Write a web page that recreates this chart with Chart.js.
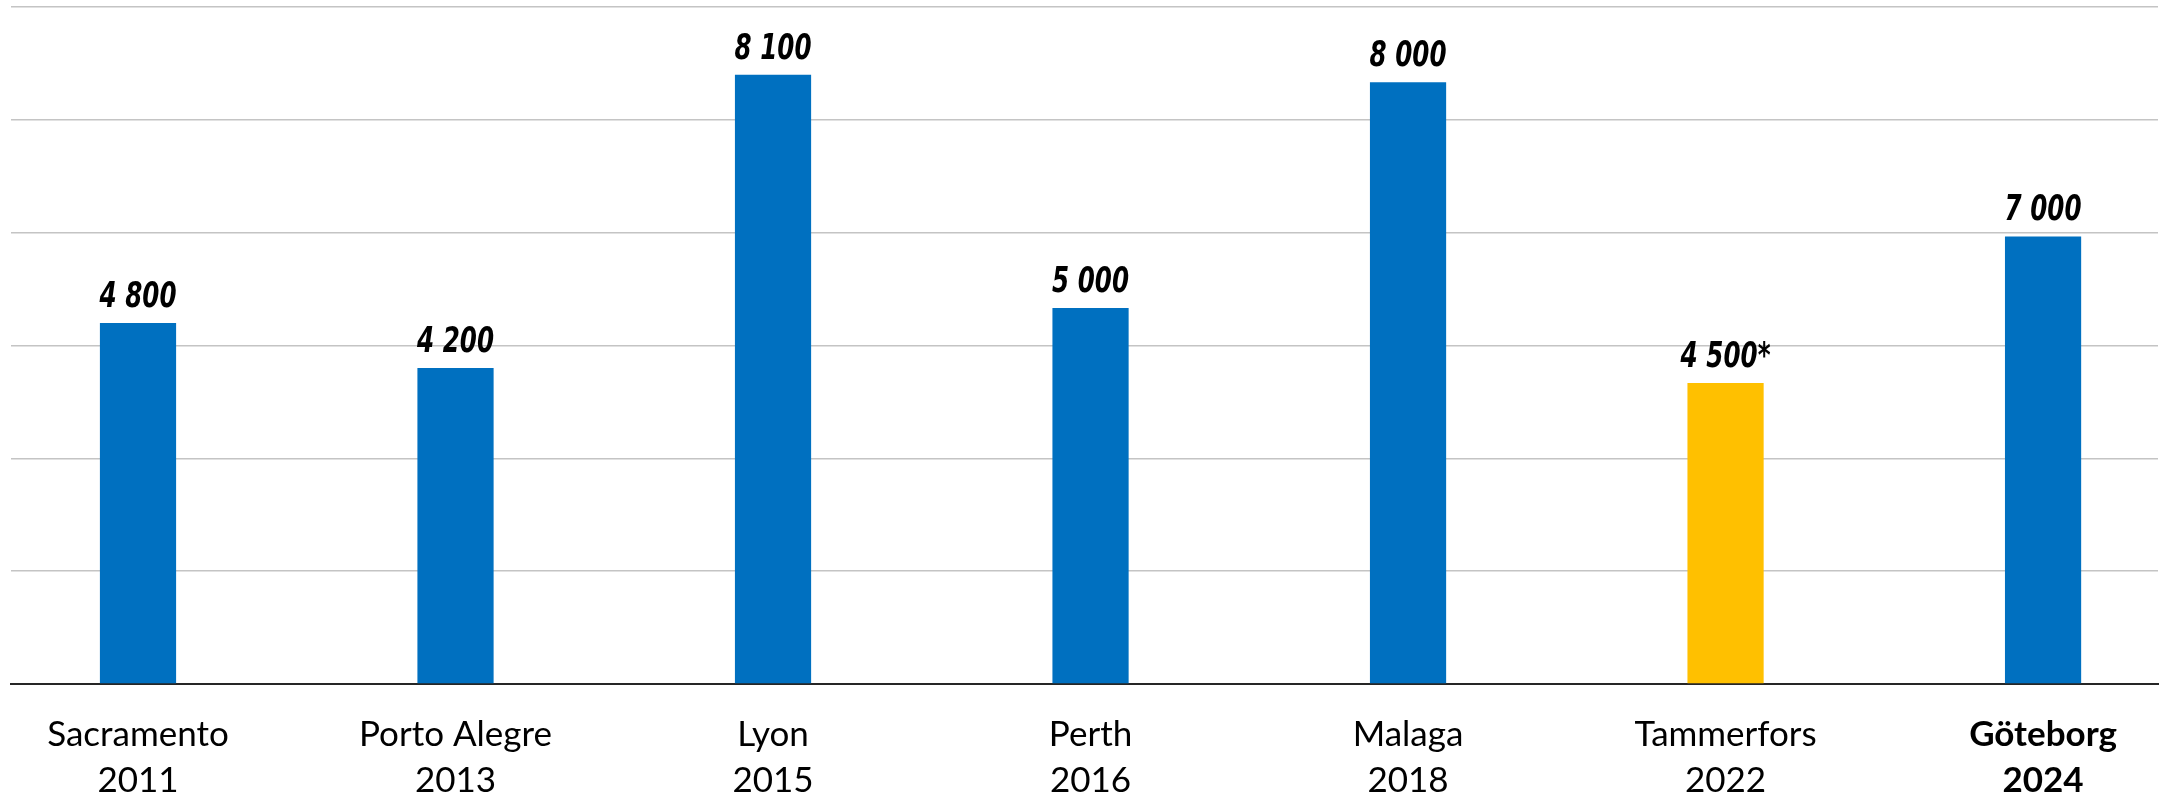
<!DOCTYPE html>
<html>
<head>
<meta charset="utf-8">
<script src="https://cdn.jsdelivr.net/npm/chart.js@4/dist/chart.umd.min.js"></script>
<style>
  html, body { margin: 0; padding: 0; background: #fff; }
  #wrap { position: relative; width: 2160px; height: 808px; }
</style>
</head>
<body>
<div id="wrap"><canvas id="chart"></canvas></div>
<script>
const cities = ["Sacramento", "Porto Alegre", "Lyon", "Perth", "Malaga", "Tammerfors", "Göteborg"];
const years = ["2011", "2013", "2015", "2016", "2018", "2022", "2024"];
// bar heights as drawn, read against the gridlines (1 500 per line)
const barValues = [4800, 4200, 8100, 5000, 8000, 4000, 5950];
// labels printed above the bars
const valueLabels = ["4 800", "4 200", "8 100", "5 000", "8 000", "4 500*", "7 000"];
const barColors = ["#0070C0", "#0070C0", "#0070C0", "#0070C0", "#0070C0", "#FFC000", "#0070C0"];
const yTicks = [0, 1500, 3000, 4500, 6000, 7500, 9000];

const valueLabelPlugin = {
  id: "valueLabels",
  afterDatasetsDraw(chart) {
    const ctx = chart.ctx;
    const meta = chart.getDatasetMeta(0);
    ctx.fillStyle = "#000";
    ctx.font = "italic bold 36px 'DejaVu Sans Condensed', sans-serif";
    ctx.textAlign = "center";
    ctx.textBaseline = "alphabetic";
    meta.data.forEach((bar, i) => {
      ctx.save();
      ctx.translate(bar.x, bar.y - 16);
      ctx.scale(0.76, 1); // squeeze to look like the narrow hand lettering
      ctx.fillText(valueLabels[i], 0, 0);
      ctx.restore();
    });
  },
};

const ctx = document.getElementById("chart").getContext("2d");
new Chart(ctx, {
  type: "bar",
  data: {
    datasets: [
      {
        data: barValues.map((v, i) => ({ x: i, y: v })),
        backgroundColor: barColors,
        borderWidth: 0,
        categoryPercentage: 1,
        barPercentage: 0.24,
      },
    ],
  },
  options: {
    responsive: true,
    maintainAspectRatio: false,
    animation: false,
    layout: { padding: { top: 7, left: 11, right: 2, bottom: 0 } },
    plugins: {
      legend: { display: false },
      tooltip: { enabled: false },
    },
    scales: {
      x: {
        type: "linear",
        bounds: "data",
        offset: false,
        min: -0.4,
        max: 6.362,
        afterBuildTicks: (scale) => { scale.ticks = cities.map((c, i) => ({ value: i })); },
        grid: { display: false, drawTicks: false, offset: false },
        border: { display: true, color: "#262626", width: 2 },
        afterFit: (scale) => { scale.height = 124; },
        ticks: {
          autoSkip: false,
          maxRotation: 0,
          padding: 28,
          color: "#000",
          font: (c) => ({
            family: "Lato, 'Open Sans', sans-serif",
            size: 35,
            lineHeight: 1.3,
            weight: c.tick && c.tick.value === 6 ? "bold" : "normal",
          }),
          callback: (v) => [cities[v], years[v]],
        },
      },
      y: {
        min: yTicks[0],
        max: yTicks[yTicks.length - 1],
        afterBuildTicks: (scale) => { scale.ticks = yTicks.map((v) => ({ value: v })); },
        grid: { color: "#c4c4c4", lineWidth: 1.5, drawTicks: false },
        border: { display: false },
        ticks: { display: false },
      },
    },
  },
  plugins: [valueLabelPlugin],
});
</script>
</body>
</html>
